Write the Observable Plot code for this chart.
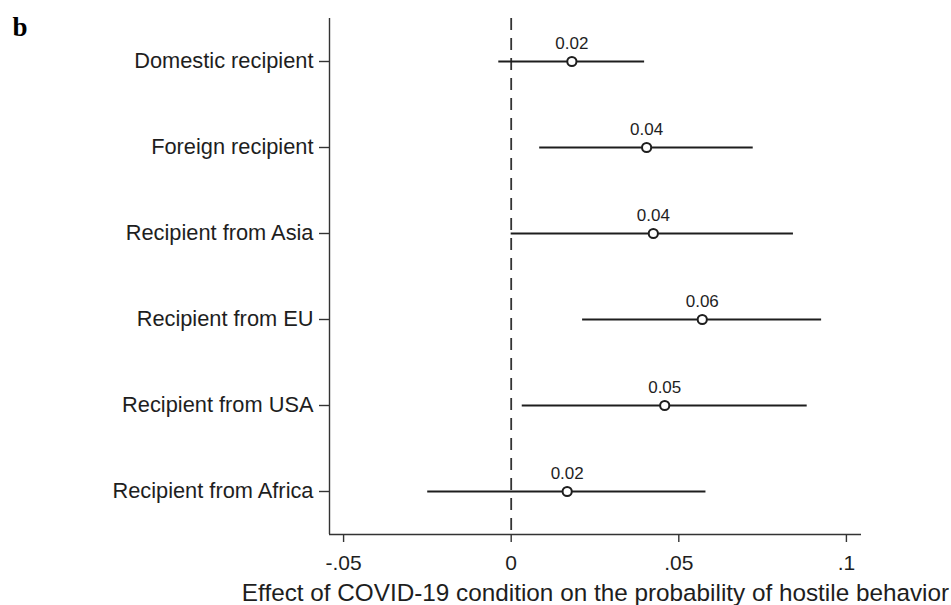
<!DOCTYPE html>
<html>
<head>
<meta charset="utf-8">
<script src="https://cdn.jsdelivr.net/npm/d3@7"></script>
<script src="https://cdn.jsdelivr.net/npm/@observablehq/plot@0.6"></script>
<style>
  html, body { margin: 0; padding: 0; background: #fff; }
  #chart svg { display: block; }
</style>
</head>
<body>
<div id="chart"></div>
<script>
const categories = ["Domestic recipient", "Foreign recipient", "Recipient from Asia", "Recipient from EU", "Recipient from USA", "Recipient from Africa"];
const estimates = [0.0181, 0.0404, 0.0424, 0.0570, 0.0458, 0.0167];
const lowerCI   = [-0.0037, 0.0085, 0.0000, 0.0213, 0.0033, -0.0249];
const upperCI   = [0.0398, 0.0722, 0.0842, 0.0926, 0.0883, 0.0581];
const xTicks = [-0.05, 0, 0.05, 0.1];
const xTitle = "Effect of COVID-19 condition on the probability of hostile behavior";
const panelLetter = "b";

const rows = categories.map((c, i) => ({cat: c, idx: i, est: estimates[i], lo: lowerCI[i], hi: upperCI[i]}));
const fmtTick = d => d === 0 ? "0" : String(d).replace(/^(-?)0\./, "$1.");

const xDomain = [-0.0542, 0.1045];
const yDomain = [categories.length - 0.5, -0.5];

const font = "'Liberation Sans', Arial, sans-serif";
const ink = "#1e1e1e";
const axisInk = "#333";

const chart = Plot.plot({
  width: 951,
  height: 605,
  marginLeft: 329,
  marginRight: 90,
  marginTop: 18,
  marginBottom: 71,
  style: {fontFamily: font, color: ink, background: "#fff", overflow: "visible"},
  x: {domain: xDomain, ticks: xTicks},
  y: {domain: yDomain},
  marks: [
    Plot.ruleX([0], {stroke: axisInk, strokeWidth: 1.8, strokeDasharray: "12,8"}),
    Plot.ruleX([xDomain[0]], {stroke: axisInk, strokeWidth: 1.4}),
    Plot.ruleY([yDomain[0]], {stroke: axisInk, strokeWidth: 1.4}),
    Plot.axisY({
      ticks: d3.range(categories.length), tickFormat: i => categories[i],
      tickSize: 10, tickPadding: 6, fontSize: 21.8, label: null,
      stroke: axisInk, strokeWidth: 1.4, color: ink
    }),
    Plot.axisX({
      ticks: xTicks, tickFormat: fmtTick, tickSize: 8, tickPadding: 13, fontSize: 21,
      stroke: axisInk, strokeWidth: 1.4, label: null
    }),
    Plot.text([xTitle], {frameAnchor: "bottom", dy: 66, fontSize: 24.3, fill: ink, lineAnchor: "bottom"}),
    Plot.ruleY(rows, {y: "idx", x1: "lo", x2: "hi", stroke: "#1e1e1e", strokeWidth: 2}),
    Plot.dot(rows, {x: "est", y: "idx", r: 4.6, stroke: "#1e1e1e", strokeWidth: 2, fill: "#fff"}),
    Plot.text(rows, {x: "est", y: "idx", text: d => d3.format(".2f")(d.est), dy: -18, fontSize: 17, fill: ink}),
    Plot.text([panelLetter], {frameAnchor: "top-left", dx: -317, dy: 17, fontSize: 27, fontWeight: "bold",
      fontFamily: "'Liberation Serif', 'Times New Roman', serif", fill: "#000", textAnchor: "start", lineAnchor: "bottom"})
  ]
});
document.getElementById("chart").appendChild(chart);
</script>
</body>
</html>
